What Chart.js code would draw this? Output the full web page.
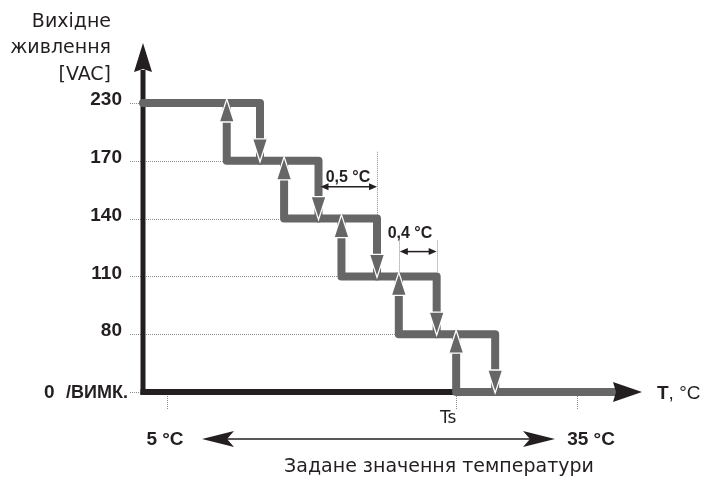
<!DOCTYPE html>
<html>
<head>
<meta charset="utf-8">
<script src="https://cdn.jsdelivr.net/npm/chart.js@4.4.0/dist/chart.umd.min.js"></script>
<style>
  html, body { margin: 0; padding: 0; background: #fff; }
</style>
</head>
<body>
<canvas id="chart" width="708" height="479"></canvas>
<script>
// output voltage steps, top step first
const levels = [230, 170, 140, 110, 80, 0];
const levelLabels = ["230", "170", "140", "110", "80", "0"];
// temperature (°C relative to Ts) where output climbs back to levels[i] from levels[i + 1]
const riseTemps = [-2.0, -1.5, -1.0, -0.5, 0.0];
// temperature where output falls from levels[i] to levels[i + 1]
const dropTemps = [-1.71, -1.2, -0.69, -0.17, 0.34];
// drawing range on the T axis
const tempMin = -2.73;
const tempMax = 1.62;
const lineEndTemp = 1.39;
// small marks under the T axis (5 °C, Ts, 35 °C)
const markTemps = [-2.52, 0, 1.057];

const INK = "#231f20";
const STEP = "#666666";
const DOT = "#8c8c8c";
const SANS = "'Liberation Sans', Arial, sans-serif";
const TEXT = "'DejaVu Sans', sans-serif";

// level index for the y scale (0 at the bottom)
const yOf = (v) => levels.length - 1 - levels.indexOf(v);

// one polyline per step bracket
const segments = [];
segments.push([
  { x: tempMin, y: yOf(levels[0]) },
  { x: dropTemps[0], y: yOf(levels[0]) },
  { x: dropTemps[0], y: yOf(levels[1]) },
]);
riseTemps.forEach((t, i) => {
  const seg = [
    { x: t, y: yOf(levels[i]) },
    { x: t, y: yOf(levels[i + 1]) },
  ];
  if (i + 1 < dropTemps.length) {
    seg.push({ x: dropTemps[i + 1], y: yOf(levels[i + 1]) });
    seg.push({ x: dropTemps[i + 1], y: yOf(levels[i + 2]) });
  } else {
    seg.push({ x: lineEndTemp, y: yOf(levels[i + 1]) });
  }
  segments.push(seg);
});

function arrowHead(ctx, tx, ty, dx, dy, len, half, notch) {
  const px = -dy, py = dx;
  const bx = tx - dx * len, by = ty - dy * len;
  ctx.beginPath();
  ctx.moveTo(tx, ty);
  ctx.lineTo(bx + px * half, by + py * half);
  ctx.lineTo(tx - dx * (len - notch), ty - dy * (len - notch));
  ctx.lineTo(bx - px * half, by - py * half);
  ctx.closePath();
}

function dotted(ctx, x1, y1, x2, y2) {
  ctx.save();
  ctx.strokeStyle = DOT;
  ctx.lineWidth = 1;
  ctx.setLineDash([1, 1]);
  ctx.beginPath();
  ctx.moveTo(x1, y1);
  ctx.lineTo(x2, y2);
  ctx.stroke();
  ctx.restore();
}

const diagram = {
  id: "diagram",
  beforeDatasetsDraw(chart) {
    const { ctx, chartArea, scales } = chart;
    const px = (t) => scales.x.getPixelForValue(t);
    const py = (v) => scales.y.getPixelForValue(yOf(v));
    const ax = chartArea.left, ay = chartArea.bottom;

    // dotted level guides
    levels.forEach((v, i) => {
      const end = i === 0 || i === levels.length - 1 ? ax - 2 : px(riseTemps[i - 1]) - 4;
      dotted(ctx, 130, Math.round(py(v)) + 0.5, end, Math.round(py(v)) + 0.5);
    });
    // marks below T axis
    markTemps.forEach((t) => {
      const x = Math.round(px(t)) + 0.5;
      dotted(ctx, x, ay + 4, x, ay + 17);
    });
    // dimension guides
    let x = Math.round(px(dropTemps[2])) + 0.5;
    dotted(ctx, x, py(levels[1]) - 9, x, py(levels[2]) - 3);
    x = Math.round(px(riseTemps[3])) + 0.5;
    dotted(ctx, x, py(levels[2]) + 22, x, py(levels[3]) - 5);
    x = Math.round(px(dropTemps[3])) + 0.5;
    dotted(ctx, x, py(levels[2]) + 22, x, py(levels[3]) - 5);

    // axes
    ctx.save();
    ctx.strokeStyle = INK;
    ctx.fillStyle = INK;
    ctx.lineWidth = 5;
    ctx.beginPath();
    ctx.moveTo(ax, ay + 3);
    ctx.lineTo(ax, 70);
    ctx.stroke();
    arrowHead(ctx, ax, 43, 0, -1, 29, 9, 3);
    ctx.fill();
    ctx.lineWidth = 6;
    ctx.beginPath();
    ctx.moveTo(ax - 2.5, ay);
    ctx.lineTo(616, ay);
    ctx.stroke();

    // titles and labels
    ctx.textBaseline = "middle";
    ctx.textAlign = "right";
    ctx.font = "19px " + TEXT;
    ctx.fillText("Вихідне", 111, 22);
    ctx.fillText("живлення", 111, 48);
    ctx.fillText("[VAC]", 111, 75);

    ctx.font = "bold 19px " + SANS;
    levels.forEach((v, i) => {
      if (i === levels.length - 1) return;
      ctx.fillText(levelLabels[i], 122, py(v) - 3);
    });
    ctx.textAlign = "left";
    ctx.fillText(levelLabels[levels.length - 1], 44, ay + 1);
    ctx.font = "bold 18px " + SANS;
    ctx.fillText("/ВИМК.", 66, ay + 1);

    ctx.font = "17px " + TEXT;
    ctx.textAlign = "center";
    ctx.fillText("Ts", px(markTemps[1]) - 8, 419);

    ctx.textAlign = "left";
    ctx.font = "bold 19px " + SANS;
    ctx.fillText("T", 657, ay + 2);
    const tw = ctx.measureText("T").width;
    ctx.font = "19px " + SANS;
    ctx.fillText(", °C", 657 + tw, ay + 2);
    ctx.restore();
  },
  afterDatasetsDraw(chart) {
    const { ctx, chartArea, scales } = chart;
    const px = (t) => scales.x.getPixelForValue(t);
    const py = (v) => scales.y.getPixelForValue(yOf(v));
    const ay = chartArea.bottom;

    ctx.save();
    // direction arrows on the steps
    ctx.fillStyle = STEP;
    ctx.strokeStyle = "#ffffff";
    ctx.lineWidth = 1.3;
    riseTemps.forEach((t, i) => {
      arrowHead(ctx, px(t), py(levels[i]) - 4, 0, -1, 23, 7.5, 0);
      ctx.fill();
      ctx.stroke();
    });
    dropTemps.forEach((t, i) => {
      arrowHead(ctx, px(t), py(levels[i + 1]) + 1, 0, 1, 23, 7.5, 0);
      ctx.fill();
      ctx.stroke();
    });

    // T axis arrow head
    ctx.fillStyle = INK;
    arrowHead(ctx, 642, ay, 1, 0, 29, 10, 3);
    ctx.fill();

    // dimension arrows
    ctx.strokeStyle = INK;
    ctx.lineWidth = 1.5;
    const dims = [
      { a: px(dropTemps[1]) + 2, b: px(dropTemps[2]), y: py(levels[1]) + 26, text: "0,5 °C", tx: 348, ty: py(levels[1]) + 17 },
      { a: px(riseTemps[3]) + 1, b: px(dropTemps[3]), y: py(levels[2]) + 33, text: "0,4 °C", tx: 410, ty: py(levels[2]) + 15 },
    ];
    ctx.font = "bold 16px " + SANS;
    ctx.textAlign = "center";
    ctx.textBaseline = "middle";
    dims.forEach((d) => {
      ctx.beginPath();
      ctx.moveTo(d.a + 4, d.y);
      ctx.lineTo(d.b - 4, d.y);
      ctx.stroke();
      arrowHead(ctx, d.a, d.y, -1, 0, 8, 3.5, 0);
      ctx.fill();
      arrowHead(ctx, d.b, d.y, 1, 0, 8, 3.5, 0);
      ctx.fill();
      ctx.fillText(d.text, d.tx, d.ty);
    });

    // setpoint range
    const ry = 439;
    ctx.beginPath();
    ctx.moveTo(220, ry);
    ctx.lineTo(537, ry);
    ctx.stroke();
    arrowHead(ctx, 202, ry, -1, 0, 32, 8, 7);
    ctx.fill();
    arrowHead(ctx, 555, ry, 1, 0, 32, 8, 7);
    ctx.fill();

    ctx.font = "bold 19px " + SANS;
    ctx.fillText("5 °C", 165, ry + 1);
    ctx.fillText("35 °C", 591, ry + 1);
    ctx.font = "19px " + TEXT;
    ctx.fillText("Задане значення температури", 439, 467);
    ctx.restore();
  },
};

new Chart(document.getElementById("chart"), {
  type: "scatter",
  data: {
    datasets: segments.map((seg) => ({
      data: seg,
      showLine: true,
      borderColor: STEP,
      borderWidth: 8,
      borderJoinStyle: "round",
      borderCapStyle: "round",
      pointRadius: 0,
      pointHoverRadius: 0,
      clip: false,
    })),
  },
  options: {
    responsive: false,
    animation: false,
    devicePixelRatio: 1,
    layout: { padding: { left: 143, right: 66, top: 103, bottom: 87 } },
    scales: {
      x: { type: "linear", min: tempMin, max: tempMax, display: false },
      y: { type: "linear", min: 0, max: levels.length - 1, display: false },
    },
    plugins: {
      legend: { display: false },
      tooltip: { enabled: false },
    },
  },
  plugins: [diagram],
});
</script>
</body>
</html>
